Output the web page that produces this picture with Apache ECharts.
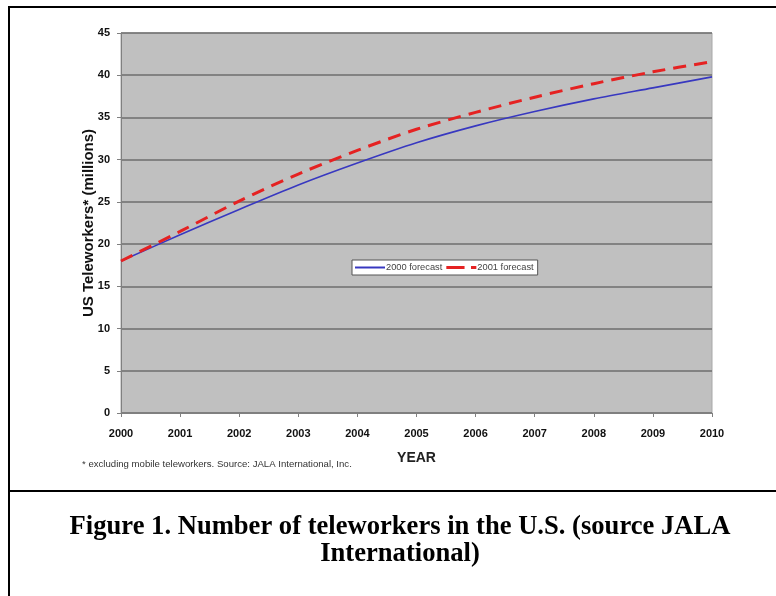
<!DOCTYPE html>
<html>
<head>
<meta charset="utf-8">
<script src="https://cdn.jsdelivr.net/npm/echarts@6/dist/echarts.min.js"></script>
<style>
  html, body { margin: 0; padding: 0; background: #fff; }
  #main { width: 776px; height: 596px; }
</style>
</head>
<body>
<div id="main"></div>
<script>
// years on the x axis
var years = ['2000', '2001', '2002', '2003', '2004', '2005', '2006', '2007', '2008', '2009', '2010'];
// millions of US teleworkers
var forecast2000 = [18.0, 21.1, 24.1, 27.0, 29.6, 32.0, 34.0, 35.7, 37.2, 38.5, 39.8];
var forecast2001 = [18.0, 21.5, 25.1, 28.3, 31.1, 33.6, 35.6, 37.4, 39.0, 40.4, 41.6];
var yTicks = [0, 5, 10, 15, 20, 25, 30, 35, 40, 45];

var myChart = echarts.init(document.getElementById('main'));

var option = {
  backgroundColor: '#fff',
  animation: false,
  graphic: [
    // page frame lines
    { type: 'rect', shape: { x: 8, y: 6, width: 768, height: 2 }, style: { fill: '#000' } },
    { type: 'rect', shape: { x: 8, y: 6, width: 2, height: 590 }, style: { fill: '#000' } },
    { type: 'rect', shape: { x: 8, y: 490, width: 768, height: 2 }, style: { fill: '#000' } },
    // caption below the chart
    {
      type: 'text',
      x: 400,
      y: 514,
      style: {
        text: 'Figure 1. Number of teleworkers in the U.S. (source JALA\nInternational)',
        font: 'bold 26.6px "Liberation Serif"',
        lineHeight: 27,
        fill: '#000',
        align: 'center'
      }
    },
    // footnote
    {
      type: 'text',
      x: 82,
      y: 459,
      style: {
        text: '* excluding mobile teleworkers. Source: JALA International, Inc.',
        font: '9.6px "Liberation Sans"',
        fill: '#333'
      }
    }
  ],
  legend: {
    left: 352,
    top: 260,
    orient: 'horizontal',
    backgroundColor: '#fff',
    borderColor: '#555',
    borderWidth: 1,
    borderRadius: 0,
    padding: [3, 4, 3, 3],
    itemGap: 4,
    itemWidth: 30,
    itemHeight: 10,
    textStyle: {
      fontFamily: 'Liberation Sans',
      fontSize: 9.3,
      color: '#444',
      padding: [0, 0, 0, -4]
    },
    data: [
      { name: '2000 forecast', icon: 'path://M0,0H30V2H0Z' },
      { name: '2001 forecast', icon: 'path://M0,0H17V3H0Z M23,0H28V3H23Z' }
    ]
  },
  grid: {
    left: 121,
    right: 64,
    top: 33,
    bottom: 183,
    show: true,
    backgroundColor: '#c0c0c0',
    borderColor: '#a8a8a8',
    borderWidth: 1
  },
  xAxis: {
    type: 'category',
    data: years,
    boundaryGap: false,
    name: 'YEAR',
    nameLocation: 'middle',
    nameGap: 38,
    nameMoveOverlap: false,
    nameTextStyle: {
      fontFamily: 'Liberation Sans',
      fontWeight: 'bold',
      fontSize: 14,
      color: '#222'
    },
    axisLine: { lineStyle: { color: '#808080', width: 1 } },
    axisTick: { show: true, length: 4, lineStyle: { color: '#808080' } },
    axisLabel: {
      margin: 15,
      fontFamily: 'Liberation Sans',
      fontWeight: 'bold',
      fontSize: 11,
      color: '#111'
    },
    splitLine: { show: false }
  },
  yAxis: {
    type: 'value',
    min: yTicks[0],
    max: yTicks[yTicks.length - 1],
    interval: 5,
    name: 'US Teleworkers* (millions)',
    nameLocation: 'middle',
    nameGap: 25,
    nameMoveOverlap: false,
    nameTextStyle: {
      fontFamily: 'Liberation Sans',
      fontWeight: 'bold',
      fontSize: 15,
      color: '#111'
    },
    axisLine: { show: true, lineStyle: { color: '#808080', width: 1 } },
    axisTick: { show: true, length: 4, lineStyle: { color: '#808080' } },
    axisLabel: {
      margin: 11,
      fontFamily: 'Liberation Sans',
      fontWeight: 'bold',
      fontSize: 11,
      color: '#111'
    },
    splitLine: { show: true, lineStyle: { color: '#6e6e6e', width: 1.5 } }
  },
  series: [{
    name: '2000 forecast',
    type: 'line',
    data: forecast2000,
    smooth: 0.3,
    showSymbol: false,
    symbol: 'none',
    lineStyle: { color: '#3838c0', width: 1.6 },
    itemStyle: { color: '#3838c0' },
    z: 3
  }, {
    name: '2001 forecast',
    type: 'line',
    data: forecast2001,
    smooth: 0.3,
    showSymbol: false,
    symbol: 'none',
    lineStyle: { color: '#e52222', width: 3, type: [13, 8] },
    itemStyle: { color: '#e52222' },
    z: 4
  }]
};

myChart.setOption(option);
</script>
</body>
</html>
